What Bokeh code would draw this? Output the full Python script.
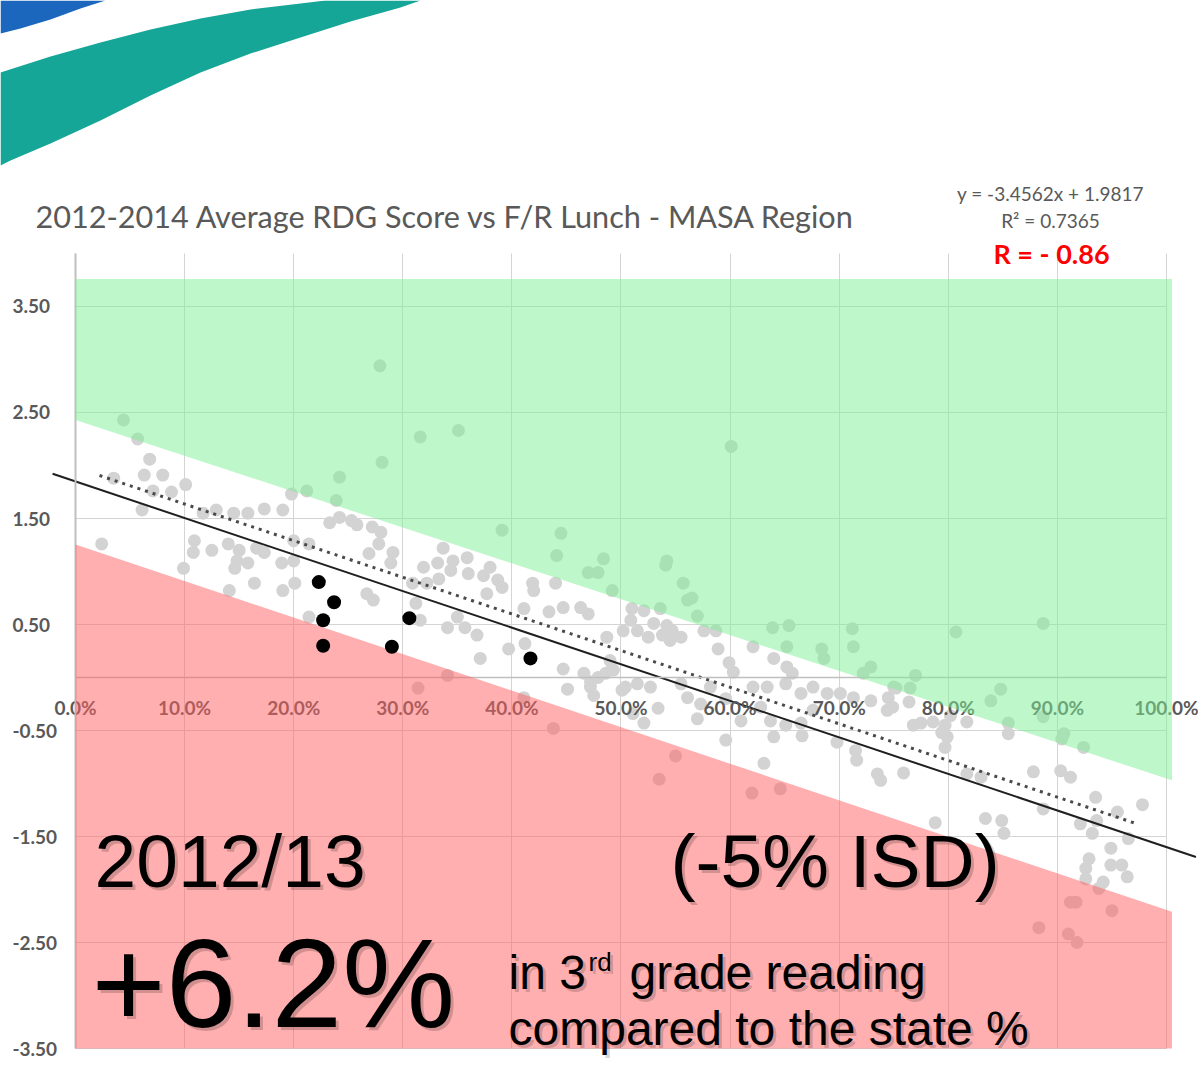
from bokeh.plotting import figure
from bokeh.models import Range1d, FixedTicker, NumeralTickFormatter, Label, Grid
from bokeh.core.properties import value
from bokeh.embed import file_html
from bokeh.resources import INLINE

# ---------------- data ----------------
FRL = [0.044, 0.057, 0.068, 0.063, 0.080, 0.035, 0.101, 0.071, 0.088, 0.061,
       0.024, 0.109, 0.108, 0.125, 0.099, 0.117, 0.129, 0.145, 0.158, 0.173,
       0.190, 0.140, 0.150, 0.148, 0.158, 0.146, 0.166, 0.173, 0.164, 0.141,
       0.189, 0.200, 0.190, 0.201, 0.214, 0.198, 0.212, 0.242, 0.239, 0.233,
       0.242, 0.253, 0.214, 0.200, 0.281, 0.316, 0.351, 0.391, 0.445, 0.441,
       0.470, 0.479, 0.484, 0.492, 0.258, 0.272, 0.280, 0.278, 0.269, 0.291,
       0.289, 0.337, 0.346, 0.359, 0.332, 0.319, 0.344, 0.360, 0.380, 0.374,
       0.387, 0.391, 0.333, 0.322, 0.309, 0.377, 0.419, 0.420, 0.440, 0.411,
       0.434, 0.447, 0.463, 0.470, 0.267, 0.273, 0.312, 0.316, 0.341, 0.350,
       0.357, 0.368, 0.397, 0.412, 0.371, 0.447, 0.466, 0.472, 0.479, 0.492,
       0.451, 0.472, 0.341, 0.314, 0.504, 0.487, 0.502, 0.542, 0.541, 0.557,
       0.561, 0.565, 0.570, 0.536, 0.510, 0.521, 0.509, 0.515, 0.530, 0.542,
       0.547, 0.538, 0.525, 0.545, 0.555, 0.576, 0.587, 0.589, 0.599, 0.603,
       0.621, 0.640, 0.652, 0.657, 0.639, 0.654, 0.652, 0.684, 0.686, 0.712,
       0.713, 0.729, 0.722, 0.750, 0.490, 0.486, 0.493, 0.515, 0.527, 0.534,
       0.511, 0.521, 0.555, 0.561, 0.573, 0.570, 0.582, 0.596, 0.610, 0.628,
       0.637, 0.621, 0.634, 0.651, 0.665, 0.676, 0.689, 0.701, 0.713, 0.676,
       0.665, 0.651, 0.640, 0.666, 0.698, 0.715, 0.716, 0.735, 0.738, 0.744,
       0.596, 0.631, 0.550, 0.535, 0.620, 0.646, 0.729, 0.807, 0.887, 0.770,
       0.765, 0.752, 0.848, 0.839, 0.855, 0.855, 0.887, 0.906, 0.904, 0.924,
       0.745, 0.749, 0.764, 0.775, 0.786, 0.797, 0.802, 0.817, 0.768, 0.794,
       0.799, 0.797, 0.759, 0.817, 0.830, 0.878, 0.903, 0.912, 0.887, 0.935,
       0.955, 0.978, 0.788, 0.834, 0.849, 0.851, 0.921, 0.936, 0.932, 0.965,
       0.949, 0.929, 0.926, 0.949, 0.959, 0.964, 0.942, 0.926, 0.938, 0.917,
       0.912, 0.950, 0.883, 0.910, 0.918, 0.411, 0.438, 0.475, 0.501, 0.279,
       0.601]
SCORE = [2.43, 2.25, 2.06, 1.91, 1.91, 1.88, 1.82, 1.76, 1.75, 1.58,
         1.26, 1.29, 1.18, 1.20, 1.03, 1.55, 1.58, 1.55, 1.55, 1.59,
         1.58, 1.26, 1.20, 1.10, 1.08, 1.03, 1.22, 1.18, 0.89, 0.82,
         1.08, 1.10, 0.82, 0.89, 0.57, 1.73, 1.76, 1.89, 1.67, 1.46,
         1.51, 1.48, 1.26, 1.29, 2.03, 2.27, 2.33, 1.39, 1.36, 1.15,
         0.99, 0.99, 1.12, 0.82, 1.44, 1.42, 1.37, 1.26, 1.17, 1.18,
         1.08, 1.22, 1.10, 1.13, 1.08, 1.04, 1.01, 0.98, 1.04, 0.96,
         0.92, 0.85, 0.93, 0.89, 0.89, 0.79, 0.89, 0.82, 0.89, 0.65,
         0.62, 0.66, 0.66, 0.60, 0.79, 0.73, 0.70, 0.54, 0.47, 0.57,
         0.47, 0.40, 0.27, 0.32, 0.18, 0.08, 0.04, -0.04, 0.00, 0.08,
         -0.11, -0.09, 0.02, -0.10, -0.09, 0.38, 0.44, 1.10, 1.06, 0.89,
         0.73, 0.75, 0.58, 0.65, 0.65, 0.63, 0.54, 0.44, 0.51, 0.49,
         0.44, 0.40, 0.38, 0.35, 0.38, 0.44, 0.44, 0.27, 0.14, 0.05,
         0.29, 0.18, 0.10, 0.04, 0.47, 0.49, 0.29, 0.27, 0.18, 0.46,
         0.29, 0.10, 0.04, -0.09, 0.16, 0.04, 0.07, -0.06, -0.09, -0.29,
         -0.34, -0.43, -0.06, -0.19, -0.25, -0.39, -0.09, -0.20, -0.41, -0.28,
         -0.41, -0.09, -0.09, -0.06, -0.15, -0.09, -0.15, -0.15, -0.19, -0.31,
         -0.43, -0.45, -0.56, -0.55, -0.61, -0.69, -0.78, -0.91, -0.97, -0.31,
         -0.59, -0.81, -0.74, -0.96, -1.09, -1.05, -0.22, 0.43, 0.51, 0.02,
         -0.10, -0.10, -0.11, -0.22, -0.43, -0.53, -0.37, -0.53, -0.58, -0.66,
         -0.19, -0.28, -0.23, -0.43, -0.42, -0.45, -0.36, -0.42, -0.45, -0.52,
         -0.56, -0.66, -0.90, -0.91, -0.94, -0.89, -0.88, -0.94, -1.24, -1.13,
         -1.27, -1.20, -1.37, -1.33, -1.35, -1.47, -1.38, -1.35, -1.47, -1.52,
         -1.61, -1.71, -1.80, -1.77, -1.77, -1.88, -1.93, -1.90, -1.99, -2.12,
         -2.12, -2.20, -2.36, -2.42, -2.50, -0.19, -0.48, -0.17, -0.12, 2.94,
         2.18]

HL_FRL = [0.223, 0.237, 0.227, 0.227, 0.290, 0.306, 0.417]
HL_SCORE = [0.90, 0.71, 0.54, 0.30, 0.29, 0.56, 0.18]

TREND_X = [0.022, 0.973]
TREND_Y = [1.906, -1.381]
FIT_X = [-0.021, 1.027]
FIT_Y = [1.922, -1.693]

BAND_X = [0.0, 1.005]
GREEN_TOP = 3.76
GREEN_LOWER = [2.43, -0.97]
RED_UPPER = [1.255, -2.21]
RED_BOTTOM = -3.5

X_TICKS = [0.0, 0.1, 0.2, 0.3, 0.4, 0.5, 0.6, 0.7, 0.8, 0.9, 1.0]
Y_TICKS = [-3.5, -2.5, -1.5, -0.5, 0.5, 1.5, 2.5, 3.5]

TITLE = "2012-2014 Average RDG Score vs F/R Lunch - MASA Region"
EQUATION = "y = -3.4562x + 1.9817"
R2_TEXT = "R\u00b2 = 0.7365"
R_TEXT = "R = - 0.86"

# logo swoosh outline (slide decoration, slide pixel space)
SW_BLUE_X = [0, 105, 80, 50, 20, 0]
SW_BLUE_Y = [0, 0, 8, 19, 28, 33]
SW_TEAL_X = [0, 50, 100, 150, 200, 250, 300, 325, 420, 400, 350, 300, 250, 200, 150, 100, 50, 10, 0]
SW_TEAL_Y = [72, 56, 42, 29, 18, 9, 3, 0, 0, 7, 21, 37, 53, 72, 95, 120, 143, 160, 165]

# ---------------- figure ----------------
W, H = 1198, 1069
p = figure(width=W, height=H,
           x_range=Range1d(-0.068744, 1.029331), y_range=Range1d(-3.698113, 6.386792),
           x_axis_location="above", y_axis_location="right",
           output_backend="svg", toolbar_location=None, min_border=0)
p.outline_line_color = None
p.extra_x_ranges = {"px": Range1d(0, W)}
p.extra_y_ranges = {"px": Range1d(H, 0)}

LABEL_FONT = "Lato"
LABEL_COLOR = "#595959"

xa = p.xaxis[0]
xa.ticker = FixedTicker(ticks=X_TICKS)
xa.formatter = NumeralTickFormatter(format="0.0%")
xa.fixed_location = 0.0
xa.bounds = (0.0, 1.0)
xa.axis_line_color = "#BFBFBF"
xa.axis_line_width = 1.5
xa.major_tick_line_color = None
xa.minor_tick_line_color = None
xa.major_label_standoff = -47
xa.major_label_text_font = LABEL_FONT
xa.major_label_text_font_style = "bold"
xa.major_label_text_font_size = "19px"
xa.major_label_text_color = LABEL_COLOR

ya = p.yaxis[0]
ya.ticker = FixedTicker(ticks=Y_TICKS)
ya.formatter = NumeralTickFormatter(format="0.00")
ya.fixed_location = 0.0
ya.bounds = (-3.5, 4.0)
ya.axis_line_color = "#BFBFBF"
ya.axis_line_width = 2
ya.major_tick_line_color = None
ya.minor_tick_line_color = None
ya.major_label_standoff = -69
ya.major_label_text_font = LABEL_FONT
ya.major_label_text_font_style = "bold"
ya.major_label_text_font_size = "19px"
ya.major_label_text_color = LABEL_COLOR

p.xgrid.grid_line_color = "#D4D4D4"
p.ygrid.grid_line_color = "#D4D4D4"
if "cross_bounds" in Grid.properties():
    p.xgrid[0].cross_bounds = (-3.5, 4.0)
    p.ygrid[0].cross_bounds = (0.0, 1.0)

# swoosh logo
p.patch(SW_BLUE_X, SW_BLUE_Y, fill_color="#1C67BE", line_color=None,
        x_range_name="px", y_range_name="px")
p.patch(SW_TEAL_X, SW_TEAL_Y, fill_color="#16A697", line_color=None,
        x_range_name="px", y_range_name="px")

# points
p.scatter(FRL, SCORE, size=13, fill_color="#D3D3D3", line_color=None)

# lines
p.line(FIT_X, FIT_Y, line_color="#1F1F1F", line_width=2)
p.line(TREND_X, TREND_Y, line_color="#4A4A4A", line_width=3, line_dash="3 5")

# bands (drawn over everything, semi-transparent)
p.patch([BAND_X[0], BAND_X[1], BAND_X[1], BAND_X[0]],
        [GREEN_TOP, GREEN_TOP, GREEN_LOWER[1], GREEN_LOWER[0]],
        fill_color="#7DEF95", fill_alpha=0.5, line_color=None, level="overlay")
p.patch([BAND_X[0], BAND_X[1], BAND_X[1], BAND_X[0]],
        [RED_UPPER[0], RED_UPPER[1], RED_BOTTOM, RED_BOTTOM],
        fill_color="#FF5F5F", fill_alpha=0.5, line_color=None, level="overlay")

# highlighted districts, on top of the bands
p.scatter(HL_FRL, HL_SCORE, size=14, fill_color="black", line_color=None, level="overlay")

# big overlay texts (slide pixel space)
BIG = value("Liberation Sans")
def big_text(x, y, txt, size):
    p.text(x=[x], y=[y], text=[txt], text_font=BIG, text_font_size=value(size),
           text_color="black", text_alpha=0.18, text_baseline="alphabetic",
           x_offset=3, y_offset=3, level="overlay", x_range_name="px", y_range_name="px")
    p.text(x=[x], y=[y], text=[txt], text_font=BIG, text_font_size=value(size),
           text_color="black", text_baseline="alphabetic", level="overlay",
           x_range_name="px", y_range_name="px")

big_text(94, 860, "2012/13", "75px")
big_text(670, 860, "(-5% ISD)", "75px")
big_text(91, 982, "+6.2%", "127px")
big_text(508, 972, "in 3", "48px")
big_text(588, 961, "rd", "26px")
big_text(629, 972, "grade reading", "48px")
big_text(508, 1028, "compared to the state %", "48px")

# title & equation texts
def slide_label(x, y, txt, size, color=LABEL_COLOR, align="left", style="normal"):
    p.add_layout(Label(x=x, y=y, text=txt, text_font="Lato", text_font_size=size,
                       text_font_style=style, text_color=color, text_align=align,
                       text_baseline="alphabetic", x_range_name="px", y_range_name="px"))

slide_label(35, 216, TITLE, "30.6px")
slide_label(1050, 193, EQUATION, "19px", align="center")
slide_label(1050, 220, R2_TEXT, "19px", align="center")
slide_label(1051, 253, R_TEXT, "27px", color="#FF0000", align="center", style="bold")

open("out.html", "w").write(file_html(p, INLINE))
